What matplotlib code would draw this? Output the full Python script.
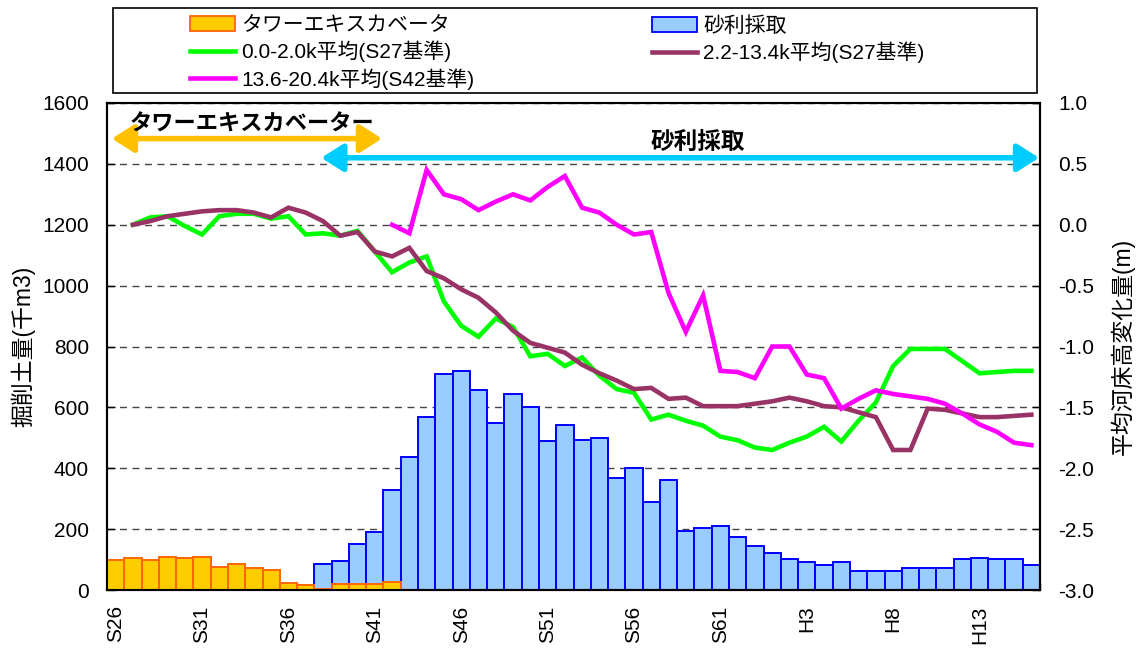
import numpy as np
import matplotlib
matplotlib.use('Agg')
import matplotlib.pyplot as plt
from matplotlib.patches import Patch, Rectangle
from matplotlib.lines import Line2D

plt.rcParams['font.family'] = ['Liberation Sans', 'Noto Sans CJK JP']

# ---------------- data ----------------
categories = ['S26', 'S27', 'S28', 'S29', 'S30', 'S31', 'S32', 'S33', 'S34', 'S35',
              'S36', 'S37', 'S38', 'S39', 'S40', 'S41', 'S42', 'S43', 'S44', 'S45',
              'S46', 'S47', 'S48', 'S49', 'S50', 'S51', 'S52', 'S53', 'S54', 'S55',
              'S56', 'S57', 'S58', 'S59', 'S60', 'S61', 'S62', 'S63', 'H1', 'H2',
              'H3', 'H4', 'H5', 'H6', 'H7', 'H8', 'H9', 'H10', 'H11', 'H12',
              'H13', 'H14', 'H15', 'H16']
tick_labels = ['S26', 'S31', 'S36', 'S41', 'S46', 'S51', 'S56', 'S61', 'H3', 'H8', 'H13']

# excavated volume (thousand m3)
tower_excavator = [100, 106, 100, 110, 106, 110, 76, 86, 71, 67,
                   23, 17, 3, 20, 20, 20, 26, 0, 0, 0,
                   0, 0, 0, 0, 0, 0, 0, 0, 0, 0,
                   0, 0, 0, 0, 0, 0, 0, 0, 0, 0,
                   0, 0, 0, 0, 0, 0, 0, 0, 0, 0,
                   0, 0, 0, 0]
gravel = [0, 0, 0, 0, 0, 0, 0, 0, 0, 0,
          0, 0, 86, 96, 150, 189, 327, 436, 567, 709,
          720, 657, 549, 643, 602, 489, 543, 494, 498, 367,
          401, 288, 361, 195, 205, 209, 175, 146, 121, 101,
          92, 81, 92, 61, 61, 61, 71, 71, 71, 101,
          106, 101, 101, 81]

# mean riverbed change (m)
avg_0_2k = [None, 0.00, 0.06, 0.07, -0.01, -0.08, 0.07, 0.09, 0.09, 0.05,
            0.07, -0.08, -0.07, -0.09, -0.05, -0.22, -0.39, -0.31, -0.26, -0.63,
            -0.83, -0.92, -0.77, -0.84, -1.08, -1.06, -1.16, -1.09, -1.24, -1.35,
            -1.38, -1.60, -1.56, -1.61, -1.65, -1.74, -1.77, -1.83, -1.85, -1.79,
            -1.74, -1.66, -1.78, -1.61, -1.46, -1.16, -1.02, -1.02, -1.02, -1.12,
            -1.22, -1.21, -1.20, -1.20]
avg_2_13k = [None, 0.00, 0.03, 0.07, 0.09, 0.11, 0.12, 0.12, 0.10, 0.06,
             0.14, 0.10, 0.03, -0.09, -0.06, -0.22, -0.26, -0.19, -0.38, -0.44,
             -0.53, -0.60, -0.72, -0.87, -0.97, -1.01, -1.05, -1.15, -1.22, -1.28,
             -1.35, -1.34, -1.43, -1.42, -1.49, -1.49, -1.49, -1.47, -1.45, -1.42,
             -1.45, -1.49, -1.50, -1.54, -1.58, -1.85, -1.85, -1.51, -1.52, -1.55,
             -1.58, -1.58, -1.57, -1.56]
avg_13_20k = [None, None, None, None, None, None, None, None, None, None,
              None, None, None, None, None, None, 0.00, -0.07, 0.45, 0.25,
              0.21, 0.12, 0.19, 0.25, 0.20, 0.31, 0.40, 0.14, 0.10, 0.00,
              -0.08, -0.06, -0.56, -0.88, -0.58, -1.20, -1.21, -1.26, -1.00, -1.00,
              -1.23, -1.26, -1.51, -1.43, -1.36, -1.39, -1.41, -1.43, -1.47, -1.55,
              -1.64, -1.70, -1.79, -1.81]

series_labels = ['タワーエキスカベータ', '砂利採取',
                 '0.0-2.0k平均(S27基準)', '2.2-13.4k平均(S27基準)',
                 '13.6-20.4k平均(S42基準)']


def arr(v):
    return np.array([np.nan if x is None else x for x in v], dtype=float)


# ---------------- figure ----------------
W, H = 1146, 649
fig = plt.figure(figsize=(W / 100, H / 100), dpi=100)
ax = fig.add_axes([107 / W, 1 - 590 / H, (1040 - 107) / W, (590 - 103) / H])

x = np.arange(len(categories))
FS = 15

ax.bar(x, gravel, width=1.0, color='#99CCFF', edgecolor='#0000FF', linewidth=1.4, zorder=2)
ax.bar(x, tower_excavator, width=1.0, color='#FFCC00', edgecolor='#FF6600', linewidth=1.4, zorder=3)

ax.set_xlim(-0.5, len(categories) - 0.5)
ax.set_ylim(0, 1600)
ax.set_yticks(np.arange(0, 1601, 200))
ax.set_axisbelow(True)
ax.yaxis.grid(True, linestyle=(0, (5, 4)), color='#444444', linewidth=1.0)

tick_pos = [categories.index(t) for t in tick_labels]
ax.set_xticks(tick_pos)
ax.set_xticklabels(tick_labels, rotation=90, fontsize=FS)
ax.set_xticks(np.arange(-0.5, len(categories), 1.0), minor=True)
ax.tick_params(axis='x', which='major', length=0, pad=11)
ax.tick_params(axis='x', which='minor', direction='in', length=5, width=1)
ax.tick_params(axis='y', direction='in', length=6, width=1, labelsize=FS, pad=13)
ax.set_ylabel('掘削土量(千m3)', fontsize=16.5, labelpad=5)

for s in ax.spines.values():
    s.set_linewidth(1.5)
    s.set_color('black')

# arrows and annotations
ax.annotate('', xy=(-0.22, 1483), xytext=(15.42, 1483),
            arrowprops=dict(arrowstyle='<|-|>,head_length=0.6,head_width=0.38',
                            color='#FFC000', lw=4, mutation_scale=22,
                            shrinkA=0, shrinkB=0), zorder=5)
ax.text(7.9, 1527, 'タワーエキスカベーター', ha='center', va='center',
        fontsize=16, fontweight='bold', zorder=6)
ax.annotate('', xy=(11.9, 1420), xytext=(53.45, 1420),
            arrowprops=dict(arrowstyle='<|-|>,head_length=0.6,head_width=0.38',
                            color='#00CCFF', lw=4, mutation_scale=22,
                            shrinkA=0, shrinkB=0), zorder=5)
ax.text(33.7, 1470, '砂利採取', ha='center', va='center',
        fontsize=17, fontweight='bold', zorder=6)

# right axis
ax2 = ax.twinx()
ax2.plot(x, arr(avg_0_2k), color='#00FF00', lw=3.3, solid_joinstyle='miter', zorder=4)
ax2.plot(x, arr(avg_2_13k), color='#993366', lw=3.3, solid_joinstyle='miter', zorder=4)
ax2.plot(x, arr(avg_13_20k), color='#FF00FF', lw=3.3, solid_joinstyle='miter', zorder=4)
ax2.set_ylim(-3.0, 1.0)
ax2.set_yticks(np.arange(-3.0, 1.01, 0.5))
ax2.set_yticklabels([f'{v:.1f}' for v in np.arange(-3.0, 1.01, 0.5)])
ax2.tick_params(axis='y', direction='in', length=6, width=1, labelsize=FS, pad=13)
ax2.set_ylabel('平均河床高変化量(m)', fontsize=16.5, labelpad=12)
for s in ax2.spines.values():
    s.set_linewidth(1.5)

# legend frame
fig.patches.append(Rectangle((113 / W, 1 - 93 / H), (1037 - 113) / W, (93 - 8) / H,
                             transform=fig.transFigure, fill=False,
                             edgecolor='black', linewidth=1.2))

h_tower = Patch(facecolor='#FFCC00', edgecolor='#FF6600', linewidth=1.3)
h_gravel = Patch(facecolor='#99CCFF', edgecolor='#0000FF', linewidth=1.3)
h_green = Line2D([], [], color='#00FF00', lw=3.3)
h_purple = Line2D([], [], color='#993366', lw=3.3)
h_mag = Line2D([], [], color='#FF00FF', lw=3.3)

leg_kw = dict(frameon=False, fontsize=FS, handlelength=2.15, handletextpad=0.3,
              labelspacing=0.28, borderpad=0, borderaxespad=0, loc='upper left')
leg1 = fig.legend([h_tower, h_green, h_mag],
                  [series_labels[0], series_labels[2], series_labels[4]],
                  bbox_to_anchor=(190 / W, 1 - 16 / H), **leg_kw)
leg2 = fig.legend([h_gravel, h_purple],
                  [series_labels[1], series_labels[3]],
                  bbox_to_anchor=(652 / W, 1 - 16 / H), **leg_kw)

fig.savefig('out.png', dpi=100)
